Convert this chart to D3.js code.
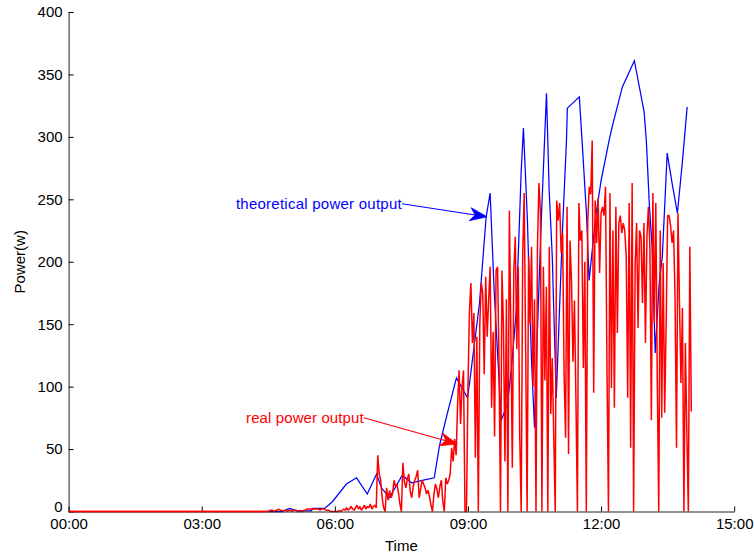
<!DOCTYPE html>
<html>
<head>
<meta charset="utf-8">
<script src="https://cdn.jsdelivr.net/npm/d3@7/dist/d3.min.js"></script>
<style>
  html, body { margin: 0; padding: 0; background: #fff; }
  svg { display: block; font-family: "Liberation Sans", Arial, Helvetica, sans-serif; }
</style>
</head>
<body>
<svg id="chart" width="754" height="556"></svg>
<script>
// ---------------- data ----------------
const xTickHours = [0, 3, 6, 9, 12, 15];
const xTickLabels = ["00:00", "03:00", "06:00", "09:00", "12:00", "15:00"];
const yTicks = [0, 50, 100, 150, 200, 250, 300, 350, 400];

// theoretical power output (hours, watts)
const blueHours = [4.53, 4.82, 4.98, 5.14, 5.47, 5.50, 5.77, 5.95, 6.26, 6.49, 6.73, 6.94, 7.05, 7.23, 7.52, 7.73, 7.97, 8.24,
  8.36, 8.51, 8.74, 8.99, 9.05, 9.26, 9.41, 9.50, 9.59, 9.75, 9.89, 9.98, 10.09, 10.20, 10.25, 10.34, 10.43, 10.50,
  10.56, 10.65, 10.72, 10.77, 10.83, 10.90, 10.99, 11.06, 11.13, 11.22, 11.24, 11.51, 11.58, 11.67, 11.73, 11.80,
  11.89, 12.00, 12.18, 12.25, 12.48, 12.75, 12.97, 13.02, 13.09, 13.15, 13.22, 13.31, 13.38, 13.49, 13.60, 13.72,
  13.83, 13.94];
const bluePower = [0, 0, 2.5, 0.5, 0.5, 2.5, 2.5, 8, 22, 27, 14, 30, 19, 11, 29, 23, 25, 27,
  53, 75, 107, 91, 107, 167, 236, 255, 177, 73, 86, 115, 161, 273, 307, 233, 123, 67,
  139, 231, 292, 335, 257, 204, 91, 159, 225, 297, 323, 332, 292, 239, 185, 209,
  239, 265, 297, 308, 340, 361, 320, 297, 244, 212, 127, 183, 204, 287, 263, 239,
  279, 324];

// real power output: zero from 00:00, then samples every 2 minutes from 04:30
const redLeadHours = [0];
const redLeadPower = [0];
const redStartHour = 4.5;
const redStepMinutes = 2;
const redPower = [
  0,1,1,1,0,1,1,2,1,1,0,1,1,0,1,1,0,1,1,1,0,1,0,0,1,1,2,2,2,2,
  2,2,2,2,2,1,2,2,2,1,1,1,0,0,0,
  0,0,0,1,0,1,2,1,3,1,2,4,2,1,3,5,2,4,1,3,5,2,4,3,6,2,4,5,3,
  45,
  30,25,11,3,0,19,9,17,11,14,25,20,22,15,6,0,39,24,19,26,30,16,11,20,25,28,33,11,18,25,
  22,19,14,17,12,5,0,14,22,18,11,20,25,8,0,27,22,25,30,51,40,58,45,
  86,113,70,100,113,0,0,100,160,183,
  135,159,43,140,0,150,183,175,110,188,
  140,170,196,83,144,60,193,196,120,0,
  193,148,40,170,0,241,144,35,193,220,
  130,196,60,0,204,255,131,0,204,150,
  212,100,170,0,212,263,239,0,196,105,
  180,0,212,78,123,60,0,249,233,247,
  207,223,110,59,244,46,217,185,120,169,
  90,0,247,217,225,115,200,0,233,260,
  254,297,95,249,215,251,191,239,244,237,
  260,113,0,255,99,225,83,244,143,231,
  237,223,231,225,204,91,247,51,263,0,
  196,231,147,225,220,167,231,135,220,244,
  212,73,255,151,247,105,0,225,75,199,
  79,151,237,237,229,215,225,172,51,239,
  167,103,163,0,135,63,0,212,80
];

// annotations (data coordinates)
const annoTexts = ["theoretical power output", "real power output"];
const annoTextHour = [3.77, 4.0];
const annoTextPower = [246.5, 75];
const annoTipHour = [9.43, 8.76];
const annoTipPower = [236, 54];
const annoColors = ["#0000ff", "#ff0000"];

// ---------------- chart ----------------
const svg = d3.select("#chart");
const x = d3.scaleLinear().domain([0, 15]).range([68.6, 734.2]);
const y = d3.scaleLinear().domain([0, 400]).range([511.5, 12]);

const bluePts = blueHours.map((h, i) => [h, bluePower[i]]);
const redPts = redLeadHours.map((h, i) => [h, redLeadPower[i]])
  .concat(redPower.map((v, i) => [redStartHour + i * redStepMinutes / 60, v]));

const line = d3.line().x(d => x(d[0])).y(d => y(d[1]));

svg.append("path").datum(bluePts)
  .attr("d", line).attr("fill", "none")
  .attr("stroke", "#0000ff").attr("stroke-width", 1.25);

svg.append("path").datum(redPts)
  .attr("d", line).attr("fill", "none")
  .attr("stroke", "#ff0000").attr("stroke-width", 1.5)
  .attr("stroke-linejoin", "bevel");

// axes
const yAxis = d3.axisLeft(y).tickValues(yTicks).tickSizeInner(-5).tickSizeOuter(0).tickPadding(6);
const xAxis = d3.axisBottom(x).tickValues(xTickHours)
  .tickFormat((d, i) => xTickLabels[i]).tickSizeInner(-5).tickSizeOuter(0).tickPadding(7);

const gy = svg.append("g").attr("transform", `translate(${x(0)},0)`).call(yAxis);
const gx = svg.append("g").attr("transform", `translate(0,${y(0)})`).call(xAxis);
[gx, gy].forEach(g => {
  g.selectAll("text").attr("font-size", 15).attr("fill", "#000")
    .attr("font-family", '"Liberation Sans", Arial, sans-serif');
  g.selectAll("line").attr("stroke", "#000");
  g.select(".domain").attr("stroke", "#222");
});
// the zero label sits a little above its tick, clear of the time labels
gy.selectAll(".tick").filter(d => d === 0).select("text").attr("dy", "0.0em");

// redraw zero-level red baseline over the axis line for the lead-in part
svg.append("path").datum(redPts.slice(0, 2))
  .attr("d", line).attr("fill", "none")
  .attr("stroke", "#ff0000").attr("stroke-width", 1.5);

// axis titles
svg.append("text").attr("x", (x(0) + x(15)) / 2).attr("y", 551)
  .attr("text-anchor", "middle").attr("font-size", 15).text("Time");
svg.append("text").attr("transform", `translate(25,${(y(0) + y(400)) / 2}) rotate(-90)`)
  .attr("text-anchor", "middle").attr("font-size", 15).text("Power(w)");

// annotations
annoTexts.forEach((t, i) => {
  const tx = x(annoTextHour[i]), ty = y(annoTextPower[i]);
  const txt = svg.append("text").attr("x", tx).attr("y", ty + 5)
    .attr("font-size", 15).attr("letter-spacing", i === 0 ? 0.25 : 0.1)
    .attr("fill", annoColors[i]).text(t);
  const len = txt.node().getComputedTextLength();
  const sx = tx + len, sy = ty;
  const ex = x(annoTipHour[i]), ey = y(annoTipPower[i]);
  const ang = Math.atan2(ey - sy, ex - sx);
  const hl = 17, hw = 6.5, notch = 12;
  const ux = Math.cos(ang), uy = Math.sin(ang), px = -uy, py = ux;
  const bx = ex - ux * hl, by = ey - uy * hl;
  const nx = ex - ux * notch, ny = ey - uy * notch;
  svg.append("line").attr("x1", sx).attr("y1", sy).attr("x2", nx).attr("y2", ny)
    .attr("stroke", annoColors[i]).attr("stroke-width", 1.1);
  const head = [[ex, ey], [bx + px * hw, by + py * hw], [nx, ny], [bx - px * hw, by - py * hw]];
  svg.append("path").attr("d", "M" + head.map(p => p.join(",")).join("L") + "Z")
    .attr("fill", annoColors[i]).attr("stroke", annoColors[i]).attr("stroke-width", 0.8);
});
</script>
</body>
</html>
